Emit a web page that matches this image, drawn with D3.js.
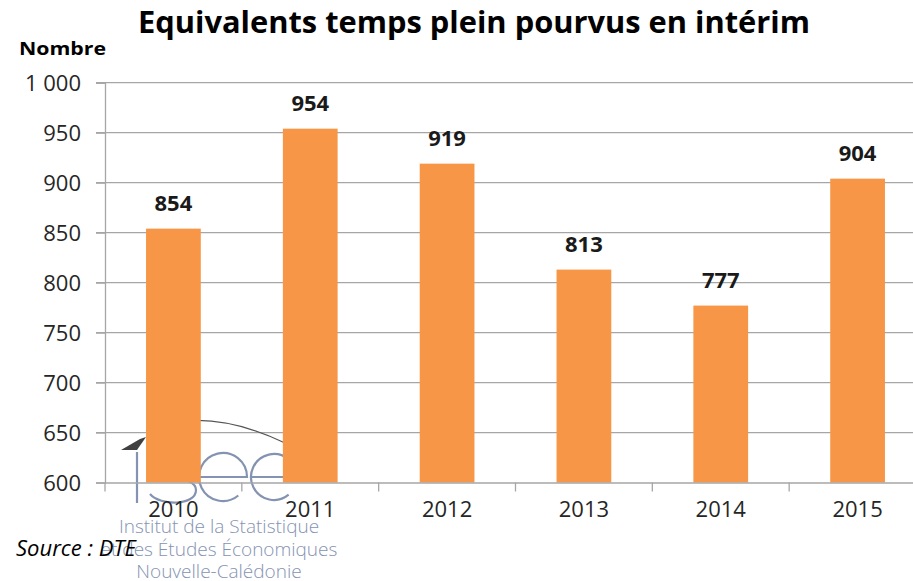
<!DOCTYPE html>
<html><head><meta charset="utf-8">
<script src="https://cdn.jsdelivr.net/npm/d3@7"></script>
<style>body{margin:0;background:#fff}svg{display:block}</style>
</head><body>
<script>
const categories = ["2010","2011","2012","2013","2014","2015"];
const values = [854, 954, 919, 813, 777, 904];
const yTicks = [600, 650, 700, 750, 800, 850, 900, 950, 1000];
const titleText = "Equivalents temps plein pourvus en intérim";
const yLabel = "Nombre";
const sourceText = "Source : DTE";
const logoLines = ["Institut de la Statistique", "et des Études Économiques", "Nouvelle-Calédonie"];

const W = 913, H = 581;
const svg = d3.select("body").append("svg").attr("width", W).attr("height", H);
const pLeft = 105, pRight = 926, pTop = 82.7, pBottom = 482.5;
const x = d3.scaleBand().domain(categories).range([pLeft, pRight]).padding(0);
const y = d3.scaleLinear().domain([600, 1000]).range([pBottom, pTop]);
const font = "'Open Sans', 'Noto Sans', sans-serif";

// gridlines
svg.append("g").selectAll("line").data(yTicks.filter(d => d > 600)).join("line")
  .attr("x1", pLeft - 9).attr("x2", W).attr("y1", d => y(d)).attr("y2", d => y(d))
  .attr("stroke", "#a6a6a6").attr("stroke-width", 1.3);

// y axis
const yAxis = d3.axisLeft(y).tickValues(yTicks).tickSize(9).tickPadding(15)
  .tickFormat(d => d3.format(",")(d).replace(",", " "));
const ga = svg.append("g").attr("transform", `translate(${pLeft},0)`).call(yAxis);
ga.select(".domain").attr("stroke", "#a6a6a6").attr("stroke-width", 1.3);
ga.selectAll(".tick line").attr("stroke", "#a6a6a6").attr("stroke-width", 1.3);
ga.selectAll(".tick text").attr("font-family", font).attr("font-size", 22).attr("fill", "#262626").attr("dy", "0.35em");

// x axis
const xAxis = d3.axisBottom(x).tickSize(0).tickPadding(30);
const gx = svg.append("g").attr("transform", `translate(0,${pBottom})`).call(xAxis);
gx.select(".domain").attr("stroke", "#a6a6a6").attr("stroke-width", 1.3);
gx.selectAll(".tick text").attr("font-family", font).attr("font-size", 22).attr("fill", "#262626").attr("dy", "0.2em");
// boundary tick marks
const bounds = categories.map(c => x(c)).concat([x(categories[categories.length-1]) + x.bandwidth()]);
svg.append("g").selectAll("line").data(bounds).join("line")
  .attr("x1", d => d).attr("x2", d => d).attr("y1", pBottom).attr("y2", pBottom + 9)
  .attr("stroke", "#a6a6a6").attr("stroke-width", 1.3);

// watermark logo (behind bars)
const logo = svg.append("g");
const lc = "#8593b2";
logo.append("path").attr("d", "M121,450 L140,439 L146,437 L137,450 Z").attr("fill", "#404040");
logo.append("path").attr("d", "M146,431 Q205,405 285,443").attr("fill", "none").attr("stroke", "#555").attr("stroke-width", 1.3);
logo.append("line").attr("x1", 137).attr("x2", 137).attr("y1", 452).attr("y2", 503).attr("stroke", lc).attr("stroke-width", 2.2);
logo.append("path").attr("d", "M194,460 C186,450 156,448 153,464 C151,480 196,474 196,490 C196,506 160,506 150,494")
  .attr("fill", "none").attr("stroke", lc).attr("stroke-width", 2.2);
function ePath(cx, cy, r) {
  const a0 = Math.PI * 0.28;
  return `M${cx - r},${cy} L${cx + r},${cy} A${r},${r} 0 1 0 ${cx + r * Math.cos(a0)},${cy + r * Math.sin(a0)}`;
}
logo.append("path").attr("d", ePath(223, 477, 24)).attr("fill", "none").attr("stroke", lc).attr("stroke-width", 2.2);
logo.append("path").attr("d", ePath(274, 477, 23)).attr("fill", "none").attr("stroke", lc).attr("stroke-width", 2.2);
logo.selectAll("text").data(logoLines).join("text")
  .attr("x", 219).attr("y", (d, i) => 533 + i * 22.5)
  .attr("text-anchor", "middle").attr("font-family", font).attr("font-weight", 300)
  .attr("font-size", 19).attr("fill", lc).text(d => d);

// bars
const bw = x.bandwidth() * 0.4;
svg.append("g").selectAll("rect").data(values).join("rect")
  .attr("x", (d, i) => x(categories[i]) + (x.bandwidth() - bw) / 2)
  .attr("width", bw)
  .attr("y", d => y(d)).attr("height", d => y(600) - y(d))
  .attr("fill", "#f79646");

// value labels
svg.append("g").selectAll("text").data(values).join("text")
  .attr("x", (d, i) => x(categories[i]) + x.bandwidth() / 2)
  .attr("y", d => y(d) - 18)
  .attr("text-anchor", "middle").attr("font-family", font).attr("font-weight", 700)
  .attr("font-size", 22).attr("fill", "#1a1a1a").text(d => d);

// x labels on top of logo
gx.raise();

// title
svg.append("text").attr("x", 474).attr("y", 33).attr("text-anchor", "middle")
  .attr("font-family", font).attr("font-weight", 700).attr("font-size", 30)
  .attr("textLength", 672).attr("lengthAdjust", "spacingAndGlyphs")
  .attr("fill", "#000").text(titleText);
svg.append("text").attr("x", 19).attr("y", 55).attr("font-family", font).attr("font-weight", 700)
  .attr("font-size", 18).attr("textLength", 87).attr("lengthAdjust", "spacingAndGlyphs").attr("fill", "#000").text(yLabel);
svg.append("text").attr("x", 16).attr("y", 556).attr("font-family", font).attr("font-style", "italic")
  .attr("font-size", 22).attr("fill", "#000").text(sourceText);
</script>
</body></html>
